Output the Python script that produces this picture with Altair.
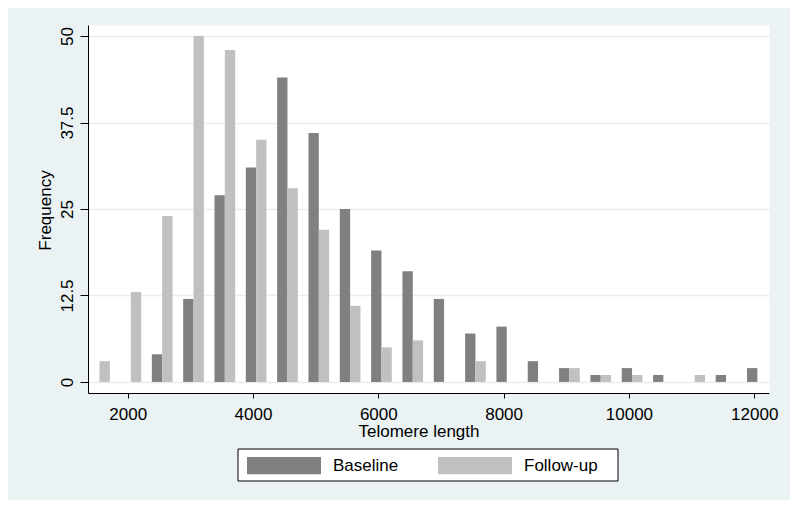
import altair as alt
import pandas as pd

# Histogram bins (lower values of 500-wide bins) and frequencies
bins = [1500, 2000, 2500, 3000, 3500, 4000, 4500, 5000, 5500, 6000, 6500,
        7000, 7500, 8000, 8500, 9000, 9500, 10000, 10500, 11000, 11500, 12000]
baseline = [0, 0, 4, 12, 27, 31, 44, 36, 25, 19, 16,
            12, 7, 8, 3, 2, 1, 2, 1, 0, 1, 2]
followup = [3, 13, 24, 50, 48, 35, 28, 22, 11, 5, 6,
            0, 3, 0, 0, 2, 1, 1, 0, 1, 0, 0]
series_names = ["Baseline", "Follow-up"]
series_colors = ["#808080", "#c0c0c0"]
x_ticks = [2000, 4000, 6000, 8000, 10000, 12000]
y_ticks = [0, 12.5, 25, 37.5, 50]

rows = []
for b, v in zip(bins, baseline):
    rows.append({"bin": b, "count": v, "series": series_names[0]})
for b, v in zip(bins, followup):
    rows.append({"bin": b, "count": v, "series": series_names[1]})
df = pd.DataFrame(rows)

FONT = "Liberation Sans"

xscale = alt.Scale(domain=[1366, 12236], nice=False, zero=False)
yscale = alt.Scale(domain=[-1.6, 51.6], nice=False, zero=False)

bars = alt.Chart(df).transform_calculate(
    x0="datum.series == 'Baseline' ? datum.bin - 115 : datum.bin + 50"
).transform_calculate(
    x1="datum.x0 + 165"
).mark_bar(strokeWidth=0).encode(
    x=alt.X("x0:Q", scale=xscale,
            axis=alt.Axis(values=x_ticks, labelExpr="'' + datum.value",
                          title="Telomere length",
                          grid=False, tickSize=5, labelPadding=21,
                          labelBaseline="alphabetic",
                          titleX=330.5, titleY=43, titleAlign="center",
                          titleBaseline="alphabetic")),
    x2="x1:Q",
    y=alt.Y("count:Q", scale=yscale,
            axis=alt.Axis(values=y_ticks, labelExpr="'' + datum.value",
                          title="Frequency",
                          grid=True, gridColor="#e6eef0", gridWidth=1.5,
                          tickSize=8, labelPadding=8, labelAngle=270,
                          labelAlign="center", labelBaseline="alphabetic",
                          titleAngle=270, titleX=-38, titleY=185,
                          titleAlign="center", titleBaseline="alphabetic")),
    y2=alt.datum(0),
    color=alt.Color("series:N",
                    scale=alt.Scale(domain=series_names, range=series_colors),
                    legend=alt.Legend(
                        title=None, orient="none", legendX=159, legendY=403.5,
                        direction="horizontal", padding=0,
                        symbolType="M-1,-0.234H1V0.234H-1Z", symbolSize=5476,
                        symbolStrokeWidth=0, labelOffset=12, columnPadding=39,
                        labelFont=FONT, labelFontSize=17, labelColor="#000000",
                        labelLimit=200)),
)

legend_box = alt.Chart(alt.Data(values=[{}])).mark_rect(
    fill="#ffffff", stroke="#000000", strokeWidth=1
).encode(
    x=alt.value(150), x2=alt.value(530), y=alt.value(424), y2=alt.value(456)
)

chart = alt.layer(legend_box, bars).properties(
    width=681, height=368,
    autosize=alt.AutoSizeParams(type="none"),
    padding={"left": 80, "top": 17, "right": 21, "bottom": 107},
    background="#eaf2f3",
).configure_view(
    fill="#ffffff", stroke="transparent"
).configure_axis(
    labelFont=FONT, labelFontSize=17, labelColor="#000000",
    titleFont=FONT, titleFontSize=17, titleColor="#000000", titleFontWeight="normal",
    domainColor="#000000", domainWidth=1, tickColor="#000000", tickWidth=1,
)

chart.save("out.html", embed_options={"renderer": "svg", "actions": False})
